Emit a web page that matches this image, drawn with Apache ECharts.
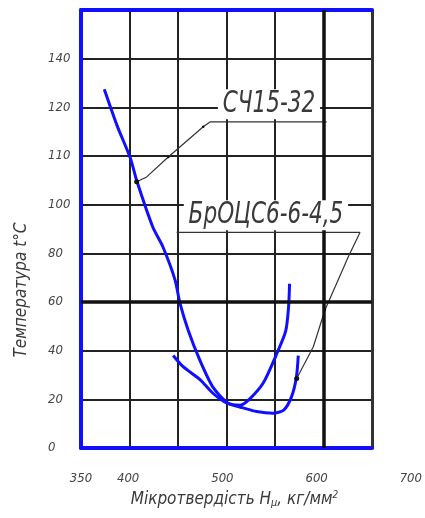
<!DOCTYPE html>
<html>
<head>
<meta charset="utf-8">
<script src="https://cdn.jsdelivr.net/npm/echarts@6/dist/echarts.min.js"></script>
<style>
  html, body { margin: 0; padding: 0; background: #fff; }
  #chart { width: 425px; height: 518px; }
</style>
</head>
<body>
<div id="chart"></div>
<script>
// Microhardness (kg/mm²) vs temperature (°C) for two materials
const sch15Hardness = [374, 387, 401, 407.5, 424, 434.5, 447, 452, 460.5, 472.5, 486, 501.5, 514, 524, 538, 551, 561, 564, 565];
const sch15Temp     = [147.4, 132.7, 119, 109.8, 90.8, 82.6, 69, 59.5, 48.4, 36.1, 25, 18.5, 17.6, 20.2, 26.8, 38, 48, 58, 67.5];

const brHardness = [445, 455, 473, 486, 500, 517, 531, 548, 559, 567, 572, 574];
const brTemp     = [38, 33.5, 28, 22.5, 18.5, 16.5, 15, 14.3, 15.6, 21, 29, 38];

// Tick labels as printed on the axes
const yTickLabels = ['0', '20', '40', '60', '80', '100', '110', '120', '140', ''];
const xTickValues = [350, 400, 500, 600, 700];

// Leader lines from each curve to its caption shelf (hardness, temperature)
const sch15LeaderX = [407.4, 417.7, 440, 476, 483, 603.3];
const sch15LeaderY = [109.4, 111.4, 119.6, 132, 134, 134];
const brLeaderX = [448.6, 637.6, 625.6, 601.5, 589.5, 572.4];
const brLeaderY = [88.6, 88.6, 78.6, 56.7, 41.6, 28.6];

// Caption anchors
const captionNames = ['СЧ15-32', 'БрОЦС6-6-4,5'];
const captionX = [543.8, 540.7];
const captionY = [141.3, 95.7];

const zip = (a, b) => a.map((v, i) => [v, b[i]]);

const FONT = "'DejaVu Sans Condensed', 'Liberation Sans Narrow', 'DejaVu Sans', sans-serif";
const BLUE = '#1010ff';
const GRIDC = '#222';

const chart = echarts.init(document.getElementById('chart'), null, { renderer: 'canvas' });

// leader polyline: a dot where it touches the curve, small ticks at the bends
const leaderData = (xs, ys, dotAt, bends) => zip(xs, ys).map((p, i) => ({
  value: p,
  symbol: (i === dotAt || bends.includes(i)) ? 'circle' : 'none',
  symbolSize: i === dotAt ? 5 : (bends.includes(i) ? 2.5 : 0)
}));

chart.setOption({
  animation: false,
  backgroundColor: '#fff',
  grid: [
    { left: 81, top: 10, width: 291, height: 438 },
    { left: 81, top: 10, width: 339.5, height: 438 }
  ],
  xAxis: [
    {
      gridIndex: 0, type: 'value', min: 350, max: 650, interval: 50, position: 'bottom',
      axisLine: { show: true, onZero: false, lineStyle: { color: BLUE, width: 4 } },
      axisTick: { show: false }, axisLabel: { show: false },
      splitLine: { show: true, lineStyle: { color: GRIDC, width: 2 } },
      name: 'Мікротвердість H{sub|μ}, кг/мм{sup|2}',
      nameLocation: 'middle', nameGap: 42,
      nameTextStyle: {
        fontFamily: FONT, fontStyle: 'italic', fontSize: 17, color: '#3a3a3a',
        padding: [0, 0, 0, 16],
        rich: {
          sub: { fontFamily: FONT, fontStyle: 'italic', fontSize: 11, color: '#3a3a3a', verticalAlign: 'bottom', padding: [8, 0, 0, 0] },
          sup: { fontFamily: FONT, fontStyle: 'italic', fontSize: 10, color: '#3a3a3a', verticalAlign: 'top', padding: [0, 0, 8, 0] }
        }
      }
    },
    {
      gridIndex: 0, type: 'value', min: 350, max: 650, position: 'top',
      axisLine: { show: true, onZero: false, lineStyle: { color: BLUE, width: 4 } },
      axisTick: { show: false }, axisLabel: { show: false }, splitLine: { show: false }
    },
    {
      gridIndex: 1, type: 'value', min: 350, max: 700, interval: 50, position: 'bottom',
      axisLine: { show: false }, axisTick: { show: false }, splitLine: { show: false },
      axisLabel: {
        show: true, margin: 24, color: '#444', fontFamily: FONT, fontStyle: 'italic', fontSize: 13,
        showMinLabel: true, showMaxLabel: true,
        formatter: v => xTickValues.includes(v) ? String(v) : ''
      }
    }
  ],
  yAxis: [
    {
      gridIndex: 0, type: 'value', min: 0, max: 180, interval: 20,
      axisLine: { show: true, onZero: false, lineStyle: { color: BLUE, width: 4 } },
      axisTick: { show: false },
      splitLine: { show: true, lineStyle: { color: GRIDC, width: 2 } },
      axisLabel: {
        show: true, align: 'left', margin: 33, color: '#444',
        fontFamily: FONT, fontStyle: 'italic', fontSize: 13,
        formatter: v => yTickLabels[Math.round(v / 20)] || ''
      },
      name: 'Температура t°C',
      nameLocation: 'middle', nameGap: 51, nameRotate: 90,
      nameTextStyle: {
        fontFamily: FONT, fontStyle: 'italic', fontSize: 17, color: '#3a3a3a',
        padding: [0, 122, 0, 0]
      }
    },
    {
      gridIndex: 0, type: 'value', min: 0, max: 180, position: 'right',
      axisLine: { show: true, onZero: false, lineStyle: { color: '#333', width: 3 } },
      axisTick: { show: false }, axisLabel: { show: false }, splitLine: { show: false }
    },
    {
      gridIndex: 1, type: 'value', min: 0, max: 180, show: false
    }
  ],
  series: [
    {
      // heavier grid lines at 600 and 60
      type: 'line', xAxisIndex: 0, yAxisIndex: 0, data: [], z: 1,
      markLine: {
        silent: true, symbol: 'none', label: { show: false },
        lineStyle: { color: '#111', width: 3.5, type: 'solid' },
        data: [{ xAxis: 600 }, { yAxis: 60 }]
      }
    },
    {
      name: 'СЧ15-32', type: 'line', xAxisIndex: 0, yAxisIndex: 0, z: 3,
      data: zip(sch15Hardness, sch15Temp), smooth: 0.25, showSymbol: false,
      lineStyle: { color: BLUE, width: 3 }
    },
    {
      name: 'БрОЦС6-6-4,5', type: 'line', xAxisIndex: 0, yAxisIndex: 0, z: 3,
      data: zip(brHardness, brTemp), smooth: 0.25, showSymbol: false,
      lineStyle: { color: BLUE, width: 3 }
    },
    {
      type: 'line', xAxisIndex: 0, yAxisIndex: 0, z: 4,
      data: leaderData(sch15LeaderX, sch15LeaderY, 0, [2, 3]),
      lineStyle: { color: '#333', width: 1.2 }, itemStyle: { color: '#111' }
    },
    {
      type: 'line', xAxisIndex: 0, yAxisIndex: 0, z: 4,
      data: leaderData(brLeaderX, brLeaderY, 5, [3]),
      lineStyle: { color: '#333', width: 1.2 }, itemStyle: { color: '#111' }
    },
    {
      // condensed italic captions on white patches
      type: 'custom', xAxisIndex: 0, yAxisIndex: 0, z: 6,
      data: zip(captionX, captionY),
      renderItem: (params, api) => {
        const p = api.coord([api.value(0), api.value(1)]);
        return {
          type: 'text', x: p[0], y: p[1], scaleX: 0.8, scaleY: 1,
          style: {
            text: captionNames[params.dataIndex],
            font: 'italic 30px ' + FONT,
            fill: '#3a3a3a', align: 'center', verticalAlign: 'middle',
            backgroundColor: '#fff', padding: [0, 6, 0, 6]
          }
        };
      }
    }
  ]
});
</script>
</body>
</html>
